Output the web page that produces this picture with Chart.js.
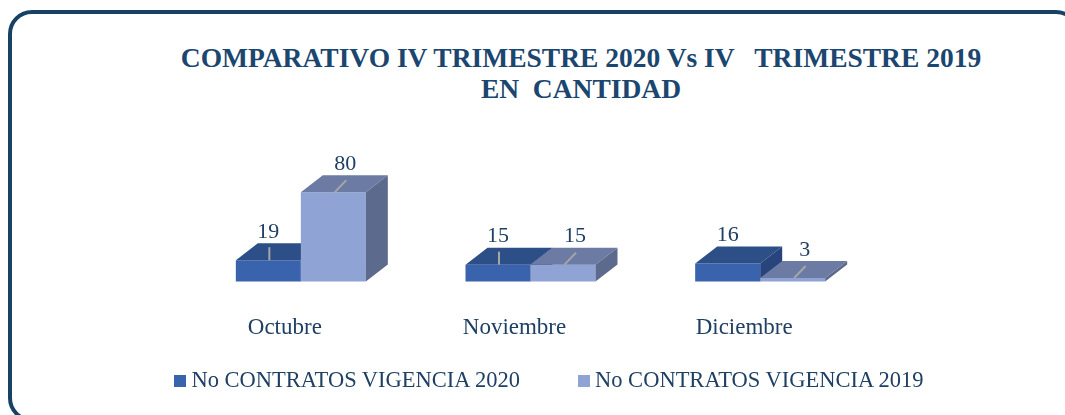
<!DOCTYPE html>
<html>
<head>
<meta charset="utf-8">
<script src="https://cdn.jsdelivr.net/npm/chart.js@4.4.0/dist/chart.umd.min.js"></script>
<style>
  body { margin: 0; width: 1065px; height: 415px; overflow: hidden; background: #fff; position: relative; font-family: "Liberation Serif", serif; }
  #frame { position: absolute; left: 8px; top: 10px; width: 1064px; height: 404px; border: 4px solid #174266; border-radius: 24px; }
  #title { position: absolute; left: 0; top: 42px; width: 1162px; text-align: center; font-weight: bold; font-size: 27.5px; line-height: 31px; color: #1b4670; white-space: pre; }
  #chart { position: absolute; left: 0; top: 0; }
  #legend { position: absolute; left: 0; top: 367px; width: 1098px; display: flex; justify-content: center; gap: 58px; font-size: 22.5px; line-height: 26px; color: #1f3f63; }
  #legend .item { display: flex; align-items: center; }
  #legend .box { width: 12px; height: 12px; margin-right: 5px; margin-top: 2px; }
</style>
</head>
<body>
<div id="frame"></div>
<div id="title">COMPARATIVO IV TRIMESTRE 2020 Vs IV   TRIMESTRE 2019
EN  CANTIDAD</div>
<canvas id="chart" width="1065" height="415"></canvas>
<div id="legend"></div>
<script>
const months = ['Octubre', 'Noviembre', 'Diciembre'];
const seriesNames = ['No CONTRATOS VIGENCIA 2020', 'No CONTRATOS VIGENCIA 2019'];
const contratos2020 = [19, 15, 16];
const contratos2019 = [80, 15, 3];

// front, top, side colours for each series
const faces = [
    { front: '#3a63ae', top: '#2d4f88', side: '#27457c' },
    { front: '#8fa3d5', top: '#6c7ba3', side: '#5c6a8e' }
];
// which labels have a leader line (per series)
const leaders = [[true, true, false], [true, true, true]];
const depthX = 22;
const depthY = -17;
const labelColor = '#1f3f63';

function drawPoly(ctx, pts, color) {
    ctx.beginPath();
    ctx.moveTo(pts[0][0], pts[0][1]);
    for (let i = 1; i < pts.length; i++) ctx.lineTo(pts[i][0], pts[i][1]);
    ctx.closePath();
    ctx.fillStyle = color;
    ctx.fill();
}

// draws each bar as a box: front face, top face, right side face
const boxBars = {
    id: 'boxBars',
    beforeDatasetsDraw(chart) {
        const ctx = chart.ctx;
        ctx.save();
        for (let i = 0; i < months.length; i++) {
            chart.data.datasets.forEach((ds, d) => {
                const bar = chart.getDatasetMeta(d).data[i];
                const { x, y, base, width } = bar.getProps(['x', 'y', 'base', 'width'], true);
                const l = x - width / 2, r = x + width / 2;
                const f = faces[d];
                drawPoly(ctx, [[l, y], [r, y], [r, base], [l, base]], f.front);
                drawPoly(ctx, [[l, y], [l + depthX, y + depthY], [r + depthX, y + depthY], [r, y]], f.top);
                drawPoly(ctx, [[r, y], [r + depthX, y + depthY], [r + depthX, base + depthY], [r, base]], f.side);
            });
        }
        ctx.restore();
        return false;
    },
    afterDraw(chart) {
        const ctx = chart.ctx;
        ctx.save();
        ctx.font = '22px "Liberation Serif"';
        ctx.textAlign = 'center';
        ctx.textBaseline = 'middle';
        chart.data.datasets.forEach((ds, d) => {
            chart.getDatasetMeta(d).data.forEach((bar, i) => {
                const { x, y } = bar.getProps(['x', 'y'], true);
                const backTop = y + depthY;
                ctx.strokeStyle = '#a6a6a6';
                ctx.lineWidth = 2;
                if (leaders[d][i]) {
                    ctx.beginPath();
                    if (d === 0) {
                        ctx.moveTo(x + 1, y);
                        ctx.lineTo(x + 1, y - 13);
                    } else {
                        ctx.moveTo(x + 1.5, y);
                        ctx.lineTo(x + 13, y - 12);
                    }
                    ctx.stroke();
                }
                ctx.fillStyle = labelColor;
                ctx.fillText(String(ds.data[i]), x + (d === 1 ? 12 : 0), backTop - 11);
            });
        });
        ctx.restore();
    }
};

const chart = new Chart(document.getElementById('chart'), {
    type: 'bar',
    data: {
        labels: months,
        datasets: [
            { label: seriesNames[0], data: contratos2020, backgroundColor: faces[0].front },
            { label: seriesNames[1], data: contratos2019, backgroundColor: faces[1].front }
        ]
    },
    options: {
        responsive: false,
        animation: false,
        devicePixelRatio: 1,
        categoryPercentage: 0.566,
        barPercentage: 1,
        layout: { padding: { left: 186, right: 190, top: 181, bottom: 40 } },
        plugins: {
            legend: { display: false },
            tooltip: { enabled: false }
        },
        scales: {
            x: {
                grid: { display: false, drawTicks: false },
                border: { display: false },
                ticks: {
                    color: labelColor,
                    font: { family: 'Liberation Serif', size: 23 },
                    padding: 33,
                    labelOffset: -16,
                    maxRotation: 0
                }
            },
            y: {
                display: false,
                min: 0,
                max: 90
            }
        }
    },
    plugins: [boxBars]
});

// legend
const legend = document.getElementById('legend');
seriesNames.forEach((name, d) => {
    const item = document.createElement('div');
    item.className = 'item';
    const box = document.createElement('span');
    box.className = 'box';
    box.style.background = faces[d].front;
    const txt = document.createElement('span');
    txt.textContent = name;
    item.appendChild(box);
    item.appendChild(txt);
    legend.appendChild(item);
});
</script>
</body>
</html>
